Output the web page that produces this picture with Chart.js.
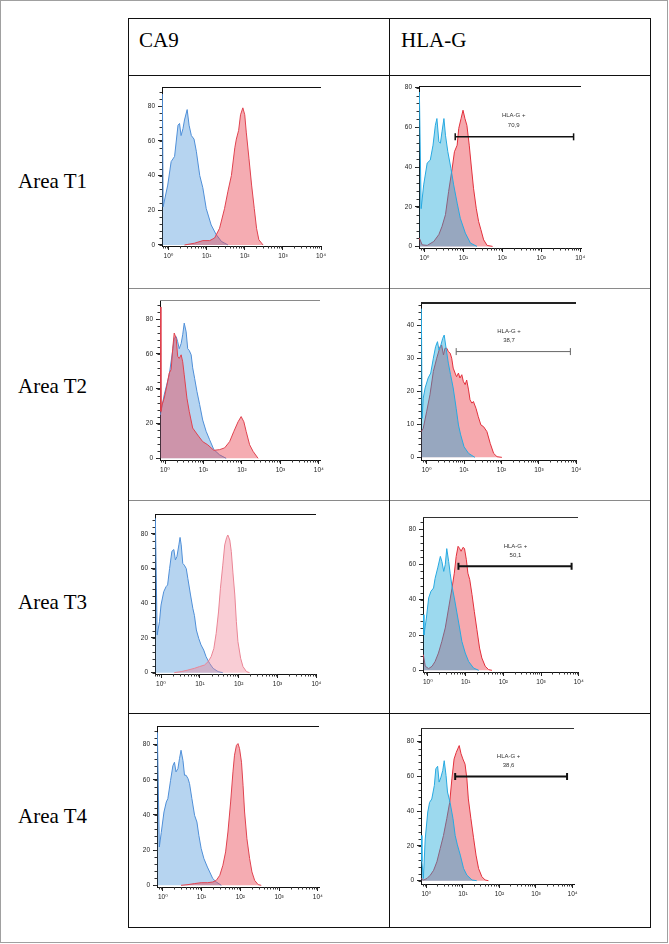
<!DOCTYPE html>
<html><head><meta charset="utf-8">
<script src="https://cdn.jsdelivr.net/npm/chart.js@4.4.0/dist/chart.umd.min.js"></script>
<style>
html,body{margin:0;padding:0;background:#fff;}
#page{position:relative;width:669px;height:944px;overflow:hidden;background:#fff;}
.frame{position:absolute;left:0;top:0;width:666px;height:941px;border:1px solid #a0a0a0;}
.hl{position:absolute;height:1px;}
.vl{position:absolute;width:1px;background:#111;}
.txt{position:absolute;font-family:'Liberation Serif','Times New Roman',serif;font-size:21px;color:#000;line-height:21px;white-space:nowrap;}
canvas{position:absolute;}
</style></head>
<body><div id="page"><div class="frame"></div></div>
<script>
// ---------------- DATA (x = log10 fluorescence, y = count) ----------------
const columnTitles = ['CA9', 'HLA-G'];
const rowTitles = ['Area T1', 'Area T2', 'Area T3', 'Area T4'];
const xTickLabels = ['10⁰', '10¹', '10²', '10³', '10⁴'];
const yTicksMain = [0, 20, 40, 60, 80];
const yTicksT2HLA = [0, 10, 20, 30, 40];
const gateTitle = 'HLA-G +';

// Area T1 - CA9
const t1Ca9BlueLog   = [-0.16,-0.14,-0.02,0.07,0.16,0.25,0.29,0.33,0.38,0.42,0.49,0.54,0.60,0.67,0.73,0.82,0.90,0.99,1.12,1.25,1.39,1.56];
const t1Ca9BlueCount = [87,22,34.5,48,51,69,70,63,67,72,78,69,63,61,54,40,33,21,11.5,6,2,0];
const t1Ca9RedLog    = [0.42,0.68,0.90,1.08,1.21,1.34,1.47,1.56,1.65,1.74,1.78,1.84,1.89,1.95,2.00,2.04,2.11,2.18,2.25,2.31,2.37,2.48];
const t1Ca9RedCount  = [0,1,2.5,2.5,4,9.6,21,31,40,56,61,66,75,79,75,65,50,34.5,21,9.6,3,0];
// Area T1 - HLA-G
const t1HlaBlueLog   = [-0.13,-0.085,-0.02,0.07,0.15,0.22,0.28,0.32,0.37,0.41,0.45,0.50,0.54,0.60,0.68,0.75,0.84,0.92,1.05,1.18,1.35];
const t1HlaBlueCount = [77.8,19,31,42,43.5,51,61,64.4,52.7,52,57.7,64.4,56,47.7,39.3,31,21.8,14.2,6.7,1.7,0];
const t1HlaRedLog    = [-0.13,-0.06,0.07,0.24,0.37,0.45,0.54,0.62,0.71,0.77,0.84,0.88,0.94,0.99,1.04,1.09,1.15,1.20,1.26,1.33,1.39,1.45,1.52,1.61,1.75];
const t1HlaRedCount  = [4.2,0.8,0.5,2.5,6,10,16,27.6,39,47.7,51,59.4,64.4,68.6,64.4,61,51,41,29.3,19.2,12.6,8.4,3.3,0.5,0];
const t1GateLog = [0.79, 3.83];
const t1GateCount = 55.2;
const t1GatePct = '70,9';

// Area T2 - CA9
const t2Ca9BlueLog   = [-0.12,-0.02,0.11,0.20,0.24,0.29,0.33,0.37,0.42,0.46,0.50,0.55,0.59,0.63,0.68,0.72,0.77,0.83,0.90,0.98,1.07,1.16,1.27,1.42,1.59];
const t2Ca9BlueCount = [25,36.5,48,62,69,70,67,63,66,71,77.7,72.7,63,62,59.5,52,46,38.5,31,22,15.5,10.7,5,2,0];
const t2Ca9RedLog    = [-0.12,-0.105,-0.08,-0.02,0.05,0.11,0.16,0.20,0.24,0.29,0.33,0.37,0.42,0.46,0.50,0.57,0.63,0.72,0.85,0.98,1.11,1.27,1.42,1.55,1.68,1.79,1.90,1.98,2.05,2.11,2.20,2.29,2.42];
const t2Ca9RedCount  = [87,27,30.6,34.6,42,49,51,63,72,69,58.6,57.4,59.5,55.5,48,34.6,27,17.4,13.4,9.6,7.8,4.6,5,6,9.6,15.5,21,24,21,15.5,7.8,4,0];
// Area T2 - HLA-G
const t2HlaBlueLog   = [-0.14,-0.12,-0.09,-0.04,0.04,0.11,0.18,0.24,0.29,0.33,0.37,0.43,0.47,0.52,0.58,0.64,0.71,0.79,0.85,0.91,1.00,1.12,1.29];
const t2HlaBlueCount = [45,11.8,17.9,21,24,25.5,30,33.5,35,32.5,33.5,36,37,33,28.5,25,21,14.8,9.8,6.8,3.2,1.2,0];
const t2HlaRedLog    = [-0.14,-0.09,0,0.09,0.18,0.27,0.36,0.40,0.45,0.49,0.54,0.58,0.63,0.67,0.71,0.76,0.80,0.85,0.89,0.94,0.98,1.03,1.07,1.12,1.16,1.21,1.25,1.32,1.38,1.45,1.52,1.61,1.70,1.79,1.88,2.01];
const t2HlaRedCount  = [7.8,8.8,13.8,19,26,30,33.5,34,31,33,33,32,31.5,30,27,25.5,24.4,25.5,24,25,23,22,23.4,20.4,17.4,16.4,16.9,14.8,12.3,9.8,9.3,7.8,4.2,1.2,0.2,0];
const t2GateLog = [0.79, 3.84];
const t2GateCount = 32;
const t2GatePct = '38,7';

// Area T3 - CA9
const t3Ca9BlueLog   = [-0.145,-0.10,-0.04,0,0.07,0.13,0.17,0.22,0.28,0.33,0.37,0.41,0.46,0.49,0.52,0.56,0.60,0.65,0.69,0.76,0.82,0.86,0.91,0.97,1.03,1.10,1.16,1.25,1.34,1.47,1.59];
const t3Ca9BlueCount = [89,21.7,29.4,39,46.7,49.6,50.6,60,70,71,65,67,73.7,78,73.7,63,62,60,54.4,44.8,37,33,24.6,19.8,16,13,9.2,5.4,2.5,0.6,0];
const t3Ca9RedLog    = [0.34,0.52,0.69,0.86,0.99,1.12,1.21,1.29,1.36,1.42,1.48,1.53,1.59,1.64,1.69,1.72,1.77,1.81,1.85,1.90,1.94,1.98,2.05,2.11,2.20,2.28];
const t3Ca9RedCount  = [0,0.6,1.5,2.5,3.5,4.4,6.3,9.2,14,22.7,35,48.7,62,73.7,78,79.4,76.5,69.8,58,44.8,29.4,17.9,8.3,3.5,0.6,0];
// Area T3 - HLA-G
const t3HlaBlueLog   = [-0.12,-0.105,-0.04,0.02,0.08,0.15,0.19,0.26,0.33,0.37,0.42,0.46,0.50,0.55,0.59,0.64,0.70,0.77,0.84,0.90,0.99,1.08,1.21,1.35];
const t3HlaBlueCount = [31.5,20,29.6,41,44.7,46.6,52,58,64.5,61.7,56,59.8,68.9,61.7,55,47.5,41,32.5,24,16.4,9.8,5,1.3,0];
const t3HlaRedLog    = [-0.12,-0.07,0.02,0.11,0.19,0.28,0.37,0.46,0.55,0.64,0.70,0.75,0.80,0.84,0.88,0.93,0.97,1.02,1.06,1.11,1.17,1.23,1.30,1.37,1.43,1.52,1.61,1.70];
const t3HlaRedCount  = [8.9,2.3,1,2.3,5,9.8,16.4,24,35.3,46.6,55,64.5,70.2,69,67.4,69.6,69,62.6,55,51.3,42.8,33.4,23,12.6,7,2.3,0.4,0];
const t3GateLog = [0.81, 3.81];
const t3GateCount = 58.9;
const t3GatePct = '50,1';

// Area T4 - CA9
const t4Ca9BlueLog   = [-0.14,-0.09,-0.04,0.03,0.09,0.13,0.20,0.26,0.30,0.34,0.39,0.43,0.47,0.52,0.56,0.60,0.65,0.69,0.75,0.82,0.88,0.93,0.99,1.06,1.15,1.21,1.29,1.38,1.51];
const t4Ca9BlueCount = [87,21.8,30,41.7,47.4,49.3,59.7,68,70,64.5,66.4,72,76.8,71,62.6,62.6,60.7,57.8,49.3,39.8,36,28.4,20.9,15.2,10.4,7.6,3.8,1.9,0];
const t4Ca9RedLog    = [0.47,0.65,0.82,0.99,1.16,1.29,1.38,1.47,1.55,1.62,1.68,1.75,1.81,1.85,1.90,1.94,1.98,2.03,2.07,2.11,2.17,2.24,2.30,2.37,2.46,2.54];
const t4Ca9RedCount  = [0,0.4,1,1.5,1.5,1.9,2.8,5.7,11.4,19,30.3,47.4,64.5,74,79.6,80.6,77.7,70,56.9,41.7,26.5,15.2,7.6,2.8,0.4,0];
// Area T4 - HLA-G
const t4HlaBlueLog   = [-0.135,-0.12,-0.08,-0.03,0.04,0.09,0.15,0.22,0.26,0.31,0.35,0.40,0.45,0.49,0.54,0.58,0.65,0.73,0.79,0.85,0.93,1.02,1.11,1.25,1.38];
const t4HlaBlueCount = [26,11,1.3,24,39.5,45,47,54.8,64.3,65.8,56.7,59.5,63.4,69,60.5,51,45,35.7,26,20.6,14.7,7,3.2,0.4,0];
const t4HlaRedLog    = [-0.135,-0.07,0.02,0.11,0.20,0.29,0.38,0.47,0.56,0.64,0.70,0.76,0.82,0.86,0.90,0.95,1.00,1.06,1.11,1.15,1.22,1.29,1.36,1.43,1.52,1.61,1.70];
const t4HlaRedCount  = [1.3,0.4,1.3,3.2,6,10.9,18.5,26,35.7,45,58.6,70,73.8,75.8,77.7,73,70,67,58.6,47,35.7,25,14.7,7,2.3,0.4,0];
const t4GateLog = [0.79, 3.85];
const t4GateCount = 59.9;
const t4GatePct = '38,6';

// ---------------- STYLES / LAYOUT ----------------
const styles = {
  ca9Blue: {border: '#4f8fd8', fill: 'rgba(110,170,225,0.5)'},
  ca9Red:  {border: '#e0424f', fill: 'rgba(232,70,85,0.45)'},
  ca9Pink: {border: '#ea8595', fill: 'rgba(240,130,150,0.4)'},
  hlaRed:  {border: '#e2303c', fill: 'rgba(235,65,75,0.45)'},
  hlaBlue: {border: '#27a9e1', fill: 'rgba(20,165,215,0.42)'}
};

const page = document.getElementById('page');
function hLine(x1, x2, y, color) {
  const d = document.createElement('div'); d.className = 'hl';
  d.style.left = x1 + 'px'; d.style.top = y + 'px'; d.style.width = (x2 - x1 + 1) + 'px'; d.style.background = color;
  page.appendChild(d);
}
function vLine(x, y1, y2) {
  const d = document.createElement('div'); d.className = 'vl';
  d.style.left = x + 'px'; d.style.top = y1 + 'px'; d.style.height = (y2 - y1 + 1) + 'px';
  page.appendChild(d);
}
function text(str, x, baseline) {
  const s = document.createElement('div'); s.className = 'txt'; s.textContent = str;
  s.style.left = x + 'px'; s.style.top = (baseline - 17) + 'px';
  page.appendChild(s);
}
// table grid
const tL = 128, tM = 389, tR = 650;
const rowY = [18, 75, 288, 500, 713, 927];
const rowColor = ['#111', '#111', '#8a8a8a', '#8a8a8a', '#111', '#111'];
rowY.forEach((y, i) => hLine(tL, tR, y, rowColor[i]));
[tL, tM, tR].forEach(x => vLine(x, rowY[0], rowY[5]));
text(columnTitles[0], 139, 47);
text(columnTitles[1], 401, 47);
const rowBase = [188, 393, 609, 823];
rowTitles.forEach((t, i) => text(t, 18, rowBase[i]));

const minorXTicks = [];
for (let d = -1; d <= 3; d++) for (let k = 2; k <= 9; k++) minorXTicks.push(d + Math.log10(k));

const decoPlugin = {
  id: 'flowDeco',
  afterDraw(chart, args, o) {
    const {ctx, chartArea: a} = chart;
    const xs = chart.scales.x, ys = chart.scales.y;
    ctx.save();
    ctx.strokeStyle = o.topColor; ctx.lineWidth = o.topWidth;
    const ty = o.topWidth % 2 === 1 ? Math.round(a.top) + 0.5 : Math.round(a.top);
    ctx.beginPath(); ctx.moveTo(Math.round(a.left), ty); ctx.lineTo(a.right, ty); ctx.stroke();
    ctx.strokeStyle = '#333'; ctx.lineWidth = 1; ctx.beginPath();
    for (const v of minorXTicks) {
      if (v <= xs.min || v >= xs.max) continue;
      const px = Math.round(xs.getPixelForValue(v)) + 0.5;
      ctx.moveTo(px, a.bottom); ctx.lineTo(px, a.bottom + 2.5);
    }
    for (let v = 0; v <= ys.max; v += o.minorY) {
      const py = Math.round(ys.getPixelForValue(v)) + 0.5;
      ctx.moveTo(a.left, py); ctx.lineTo(a.left - 2.5, py);
    }
    ctx.stroke();
    if (o.gate) {
      ctx.fillStyle = '#333'; ctx.font = '6px "Liberation Sans", Arial, sans-serif';
      ctx.textAlign = 'center'; ctx.textBaseline = 'middle';
      const gx = xs.getPixelForValue(o.gate.labelX);
      ctx.fillText(gateTitle, gx, ys.getPixelForValue(o.gate.y1));
      ctx.fillText(o.gate.pct, gx, ys.getPixelForValue(o.gate.y2));
    }
    ctx.restore();
  }
};

const panels = [
  {box:[162,87,321,246], xr:[-0.17,4.0], yr:[-0.6,91], yTicks:yTicksMain, minorY:4, top:['#111',1],
   series:[[t1Ca9BlueLog,t1Ca9BlueCount,'ca9Blue',2],[t1Ca9RedLog,t1Ca9RedCount,'ca9Red',1]]},
  {box:[419,86,581,248], xr:[-0.14,4.02], yr:[-0.8,80.8], yTicks:yTicksMain, minorY:4, top:['#111',1],
   series:[[t1HlaRedLog,t1HlaRedCount,'hlaRed',2],[t1HlaBlueLog,t1HlaBlueCount,'hlaBlue',1]],
   gate:{log:t1GateLog, y:t1GateCount, pct:t1GatePct, labelX:2.29, y1:65.8, y2:61, color:'#111', width:1.5}},
  {box:[160,300,320,460], xr:[-0.13,4.03], yr:[-0.96,91], yTicks:yTicksMain, minorY:4, top:['#8a8a8a',1],
   series:[[t2Ca9BlueLog,t2Ca9BlueCount,'ca9Blue',2],[t2Ca9RedLog,t2Ca9RedCount,'ca9Red',1]]},
  {box:[421,303,576,460], xr:[-0.15,3.99], yr:[-0.8,46.7], yTicks:yTicksT2HLA, minorY:2, top:['#222',2],
   series:[[t2HlaRedLog,t2HlaRedCount,'hlaRed',2],[t2HlaBlueLog,t2HlaBlueCount,'hlaBlue',1]],
   gate:{log:t2GateLog, y:t2GateCount, pct:t2GatePct, labelX:2.2, y1:38, y2:35.4, color:'#666', width:1}},
  {box:[155,514,316,674], xr:[-0.155,3.99], yr:[-0.77,91.5], yTicks:yTicksMain, minorY:4, top:['#111',1],
   series:[[t3Ca9BlueLog,t3Ca9BlueCount,'ca9Blue',2],[t3Ca9RedLog,t3Ca9RedCount,'ca9Pink',1]]},
  {box:[423,517,578,672], xr:[-0.13,3.98], yr:[-0.94,86.8], yTicks:yTicksMain, minorY:4, top:['#333',1],
   series:[[t3HlaRedLog,t3HlaRedCount,'hlaRed',2],[t3HlaBlueLog,t3HlaBlueCount,'hlaBlue',1]],
   gate:{log:t3GateLog, y:t3GateCount, pct:t3GatePct, labelX:2.32, y1:70.2, y2:65, color:'#111', width:2}},
  {box:[157,726,319,887], xr:[-0.15,4.03], yr:[-0.95,90.6], yTicks:yTicksMain, minorY:4, top:['#111',1],
   series:[[t4Ca9BlueLog,t4Ca9BlueCount,'ca9Blue',2],[t4Ca9RedLog,t4Ca9RedCount,'ca9Red',1]]},
  {box:[421,728,574,884], xr:[-0.145,4.04], yr:[-1.9,87.8], yTicks:yTicksMain, minorY:4, top:['#333',1],
   series:[[t4HlaRedLog,t4HlaRedCount,'hlaRed',2],[t4HlaBlueLog,t4HlaBlueCount,'hlaBlue',1]],
   gate:{log:t4GateLog, y:t4GateCount, pct:t4GatePct, labelX:2.25, y1:71.6, y2:66.2, color:'#111', width:2}}
];

const YW = 24, PT = 8, PR = 12, XH = 18;
const tickFont = {family: '"Liberation Sans", "DejaVu Sans", Arial, sans-serif', size: 6.5};

panels.forEach(p => {
  const [l, t, r, b] = p.box;
  const cv = document.createElement('canvas');
  const w = (r - l) + YW + PR, h = (b - t) + PT + XH;
  cv.width = w; cv.height = h;
  cv.style.left = (l - YW) + 'px'; cv.style.top = (t - PT) + 'px';
  cv.style.width = w + 'px'; cv.style.height = h + 'px';
  page.appendChild(cv);
  const datasets = p.series.map(([xs, ys, st, ord]) => ({
    data: xs.map((v, i) => ({x: v, y: ys[i]})),
    borderColor: styles[st].border, backgroundColor: styles[st].fill,
    borderWidth: 1, pointRadius: 0, tension: 0, fill: 'origin', order: ord
  }));
  if (p.gate) {
    datasets.push({
      data: p.gate.log.map(v => ({x: v, y: p.gate.y})),
      borderColor: p.gate.color, borderWidth: p.gate.width, fill: false, order: 0,
      pointStyle: 'line', pointRotation: 90, pointRadius: 3.5,
      pointBorderColor: p.gate.color, pointBorderWidth: p.gate.width
    });
  }
  new Chart(cv, {
    type: 'line',
    data: {datasets},
    options: {
      responsive: false, animation: false, events: [],
      layout: {padding: {left: 0, top: PT, right: PR, bottom: 0}},
      plugins: {
        legend: {display: false}, tooltip: {enabled: false},
        flowDeco: {topColor: p.top[0], topWidth: p.top[1], minorY: p.minorY,
          gate: p.gate ? {labelX: p.gate.labelX, y1: p.gate.y1, y2: p.gate.y2, pct: p.gate.pct} : null}
      },
      scales: {
        x: {
          type: 'linear', min: p.xr[0], max: p.xr[1],
          afterFit: s => { s.height = XH; },
          afterBuildTicks: s => { s.ticks = xTickLabels.map((_, i) => ({value: i})); },
          ticks: {autoSkip: false, maxRotation: 0, padding: 2, font: tickFont, color: '#222',
                  callback: v => xTickLabels[v] ?? ''},
          grid: {display: true, drawOnChartArea: false, drawTicks: true, tickLength: 4, color: '#222'},
          border: {display: true, color: '#111', width: 1}
        },
        y: {
          type: 'linear', min: p.yr[0], max: p.yr[1],
          afterFit: s => { s.width = YW; },
          afterBuildTicks: s => { s.ticks = p.yTicks.map(v => ({value: v})); },
          ticks: {autoSkip: false, padding: 3, font: tickFont, color: '#222', callback: v => String(v)},
          grid: {display: true, drawOnChartArea: false, drawTicks: true, tickLength: 4, color: '#222'},
          border: {display: true, color: '#111', width: 1}
        }
      }
    },
    plugins: [decoPlugin]
  });
});
</script>
</body></html>
